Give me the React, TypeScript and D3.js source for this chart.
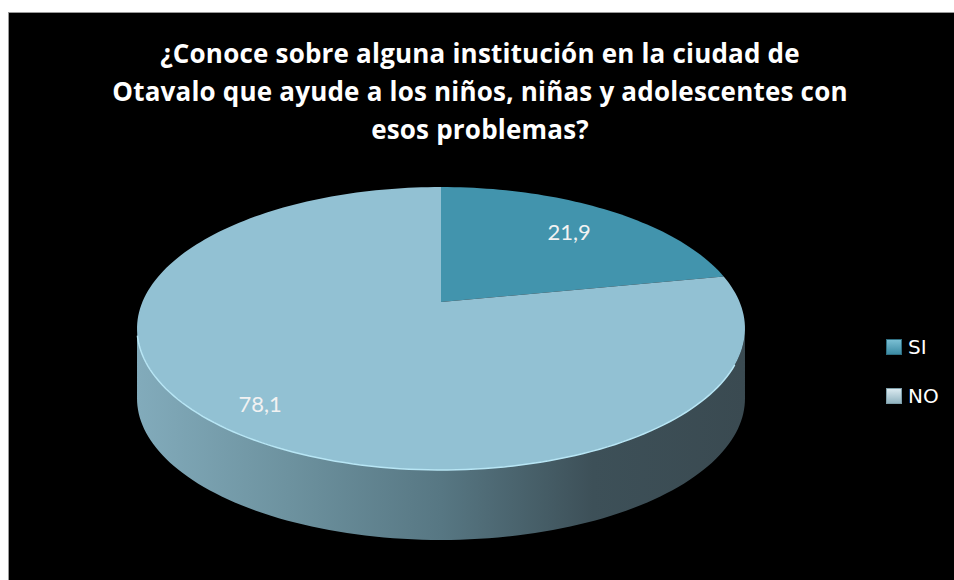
import React from 'react'
import { pie, line } from 'd3'

// chart data
const categories = ['SI', 'NO']
const values = [21.9, 78.1]
const valueLabels = ['21,9', '78,1']
const titleLines = [
  '¿Conoce sobre alguna institución en la ciudad de',
  'Otavalo que ayude a los niños, niñas y adolescentes con',
  'esos problemas?',
]

const topColors = ['#4294ad', '#92c1d3']
const legendGrad = [
  ['#7cc0d4', '#3a8aa3'],
  ['#dcebf1', '#8fb2bf'],
]
const labelR = [0.73, 0.85]

// perspective of the pie disc (fitted to the picture)
const cx = 441
const cy = 302
const A = 298.6
const B = -136.5
const K = 0.1873
const depth = 70

function project(a: number, r = 1): [number, number] {
  const u = r * Math.sin(a)
  const v = r * Math.cos(a)
  const d = 1 + K * v
  return [cx + (A * u) / d, cy + (B * v) / d]
}

function arcPoints(a0: number, a1: number, dy = 0): [number, number][] {
  const n = Math.max(2, Math.ceil(((a1 - a0) / (Math.PI * 2)) * 240))
  const pts: [number, number][] = []
  for (let i = 0; i <= n; i++) {
    const [x, y] = project(a0 + ((a1 - a0) * i) / n)
    pts.push([x, y + dy])
  }
  return pts
}

export default function App() {
  const arcs = pie<number>().sort(null).value(d => d)(values)
  const path = line()

  // the side is seen between the two extreme points of the ellipse
  const sideStart = Math.acos(-K)
  const sideEnd = Math.PI * 2 - Math.acos(-K)

  return (
    <svg width={954} height={580} style={{ position: 'absolute', left: 0, top: 0, background: '#fff' }}>
      <defs>
        <linearGradient id="sideGrad" gradientUnits="userSpaceOnUse" x1={137} y1={0} x2={745} y2={0}>
          <stop offset="0" stopColor="#82abbb" />
          <stop offset="0.25" stopColor="#6d929f" />
          <stop offset="0.5" stopColor="#577783" />
          <stop offset="0.75" stopColor="#3d5058" />
          <stop offset="1" stopColor="#3a4a51" />
        </linearGradient>
        {legendGrad.map((g, i) => (
          <linearGradient key={i} id={'lg' + i} x1="0" y1="0" x2="0" y2="1">
            <stop offset="0" stopColor={g[0]} />
            <stop offset="1" stopColor={g[1]} />
          </linearGradient>
        ))}
      </defs>
      <rect x={8.5} y={12.5} width={960} height={580} fill="#000" stroke="#9a9a9a" strokeWidth={1} />

      <g fontFamily="'Open Sans', Lato, sans-serif" fontWeight="bold" fontSize={26} fill="#fff" textAnchor="middle" letterSpacing={0.2}>
        {titleLines.map((t, i) => (
          <text key={i} x={480} y={63 + i * 38}>{t}</text>
        ))}
      </g>

      {/* side of the cylinder */}
      {arcs.map((a, i) => {
        const s = Math.max(a.startAngle, sideStart)
        const e = Math.min(a.endAngle, sideEnd)
        if (e <= s) return null
        const top = arcPoints(s, e)
        const bot = arcPoints(s, e, depth).reverse()
        return <path key={'s' + i} d={path([...top, ...bot]) + 'Z'} fill="url(#sideGrad)" />
      })}

      {/* top face */}
      {arcs.map((a, i) => {
        const pts: [number, number][] = [[cx, cy], ...arcPoints(a.startAngle, a.endAngle)]
        return <path key={'t' + i} d={path(pts) + 'Z'} fill={topColors[i]} />
      })}

      {/* light rim along the front edge */}
      <path d={path(arcPoints(sideStart + 0.25, sideEnd - 0.05)) ?? ''} fill="none" stroke="#b8e6f5" strokeWidth={1.5} />

      {arcs.map((a, i) => {
        const [x, y] = project((a.startAngle + a.endAngle) / 2, labelR[i])
        return (
          <text key={'l' + i} x={x + 3} y={y + 8} textAnchor="middle" fontFamily="Lato, sans-serif" fontSize={22} fill="#f2f2f2">
            {valueLabels[i]}
          </text>
        )
      })}

      {categories.map((c, i) => (
        <g key={c} transform={`translate(886, ${339 + i * 49})`}>
          <rect x={0.5} y={0.5} width={15} height={15} fill={`url(#lg${i})`} stroke={i === 0 ? '#2f6f82' : '#7e9ea9'} strokeWidth={1} />
          <text x={22} y={15} fontFamily="'DejaVu Sans', sans-serif" fontSize={20} fill="#fff">{c}</text>
        </g>
      ))}
    </svg>
  )
}
